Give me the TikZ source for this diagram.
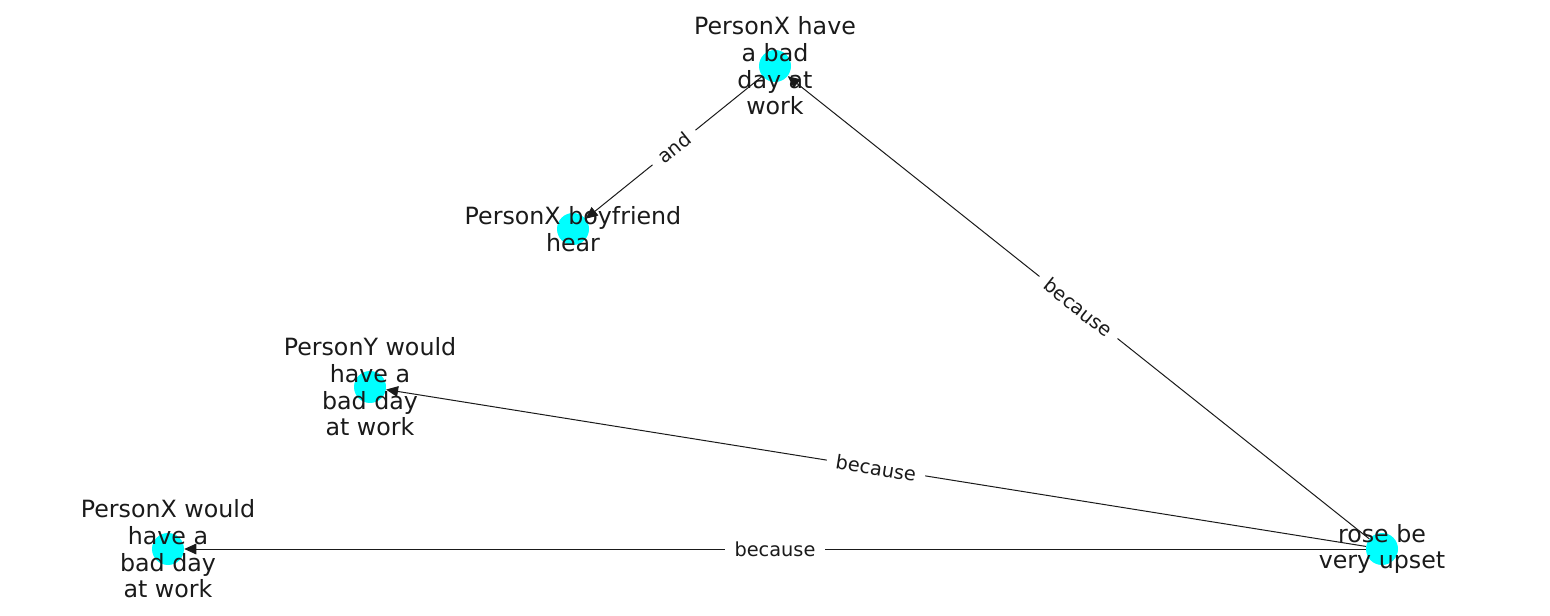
\documentclass[tikz,border=0pt]{standalone}
\usepackage{fontspec}
\setmainfont{DejaVu Sans}
\usetikzlibrary{arrows.meta}

\definecolor{aqua}{RGB}{0,255,255}
\definecolor{ink}{RGB}{26,26,26}

\tikzset{
  dot/.style={circle, fill=aqua, minimum size=24pt, inner sep=0pt},
  txt/.style={align=center, font=\fontsize{17.8}{20}\selectfont, text=ink},
  edge/.style={-{Triangle[length=9pt, width=8pt]}, line width=0.75pt, ink},
  lbl/.style={fill=white, font=\fontsize{14.5}{16}\selectfont,
              inner xsep=7pt, inner ysep=3pt, sloped, text=ink}
}

\begin{document}
\begin{tikzpicture}[x=0.75pt, y=-0.75pt]
  \useasboundingbox (0,0) rectangle (1550,616);

  % Nodes (pixel positions)
  \node[dot] (work)  at (775,66)  {};
  \node[dot] (hear)  at (573,229) {};
  \node[dot] (persy) at (370,387) {};
  \node[dot] (persx) at (168,549) {};
  \node[dot] (rose)  at (1382,549) {};

  % Edges
  \draw[edge] (work) -- (hear) node[midway, lbl] {and};
  \draw[edge] (rose) -- (work) node[midway, lbl] {because};
  \draw[edge] (rose) -- (persy) node[midway, lbl] {because};
  \draw[edge] (rose) -- (persx) node[midway, lbl] {because};

  % Labels
  \node[txt] (workt)  at (work)  {PersonX have\\a bad\\day at\\work};
  \node[txt] (heart)  at (hear)  {PersonX boyfriend\\hear};
  \node[txt] (persyt) at (persy) {PersonY would\\have a\\bad day\\at work};
  \node[txt] (persxt) at (persx) {PersonX would\\have a\\bad day\\at work};
  \node[txt] (roset)  at (rose)  {rose be\\very upset};
\end{tikzpicture}
\end{document}
